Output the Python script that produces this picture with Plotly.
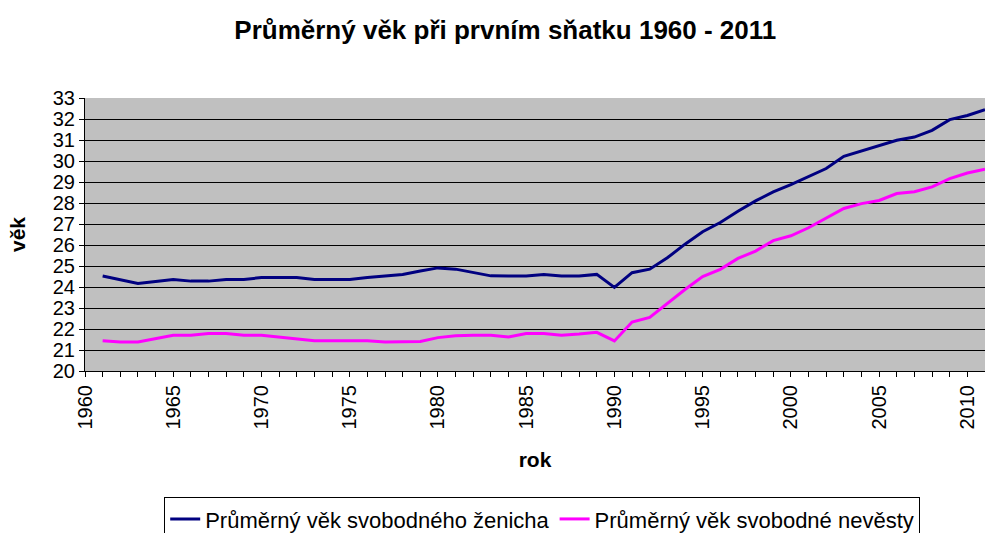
import plotly.graph_objects as go

years = list(range(1961, 2012))
zenich = [24.52, 24.36, 24.17, 24.26, 24.36, 24.28, 24.28, 24.36, 24.36, 24.45,
          24.45, 24.45, 24.36, 24.36, 24.36, 24.45, 24.53, 24.6, 24.76, 24.91,
          24.85, 24.69, 24.53, 24.52, 24.52, 24.6, 24.52, 24.52, 24.6, 23.98,
          24.68, 24.85, 25.39, 26.04, 26.63, 27.07, 27.61, 28.1, 28.53, 28.88,
          29.27, 29.64, 30.22, 30.48, 30.72, 30.99, 31.14, 31.46, 31.97, 32.17, 32.44]
nevesta = [21.44, 21.38, 21.38, 21.55, 21.7, 21.7, 21.78, 21.78, 21.7, 21.7,
           21.62, 21.52, 21.44, 21.44, 21.44, 21.44, 21.38, 21.38, 21.41, 21.59,
           21.68, 21.7, 21.7, 21.62, 21.78, 21.78, 21.7, 21.76, 21.84, 21.43,
           22.33, 22.55, 23.22, 23.88, 24.5, 24.84, 25.36, 25.71, 26.21, 26.44,
           26.82, 27.26, 27.74, 27.97, 28.12, 28.45, 28.54, 28.77, 29.16, 29.43, 29.61]
tick_years = list(range(1960, 2011, 5))

font = "Liberation Sans, Arial, sans-serif"

fig = go.Figure()
fig.add_trace(go.Scatter(x=years, y=zenich, mode="lines", name="Průměrný věk svobodného ženicha",
                         line=dict(color="#000080", width=3)))
fig.add_trace(go.Scatter(x=years, y=nevesta, mode="lines", name="Průměrný věk svobodné nevěsty",
                         line=dict(color="#FF00FF", width=3)))

fig.update_layout(
    width=985, height=533,
    margin=dict(l=85, r=0, t=98, b=162, autoexpand=False),
    paper_bgcolor="white", plot_bgcolor="#C0C0C0",
    font=dict(family=font, color="black", size=20),
    title=dict(text="<b>Průměrný věk při prvním sňatku 1960 - 2011</b>", x=0.513, xanchor="center",
               y=0.944, yanchor="middle", font=dict(size=26, family=font)),
    showlegend=True,
    legend=dict(orientation="h", x=0.508, xanchor="center", y=-0.462, yanchor="top",
                bordercolor="black", borderwidth=1, bgcolor="white",
                font=dict(size=22, family=font), itemwidth=30, tracegroupgap=0),
)
fig.update_xaxes(
    range=[1960, 2011], tickvals=tick_years, ticktext=[str(t) for t in tick_years],
    tickangle=-90, ticks="outside", ticklen=5, tickcolor="black", automargin=False,
    minor=dict(ticks="outside", dtick=1, tick0=1960, ticklen=5, tickcolor="black", showgrid=False),
    showgrid=False, showline=True, linecolor="black", linewidth=1, zeroline=False,
    tickfont=dict(size=20),
    title=dict(text="<b>rok</b>", font=dict(size=21), standoff=23),
)
fig.update_yaxes(
    range=[20, 33], dtick=1, ticks="outside", ticklen=5, tickcolor="black", automargin=False,
    showgrid=True, gridcolor="black", gridwidth=1, showline=True, linecolor="black",
    zeroline=False, tickfont=dict(size=20),
    title=dict(text="<b>věk</b>", font=dict(size=21), standoff=21),
)

fig.write_html("out.html", config={"displayModeBar": False},
               post_script="document.body.style.margin='0';document.body.style.overflow='hidden';")
